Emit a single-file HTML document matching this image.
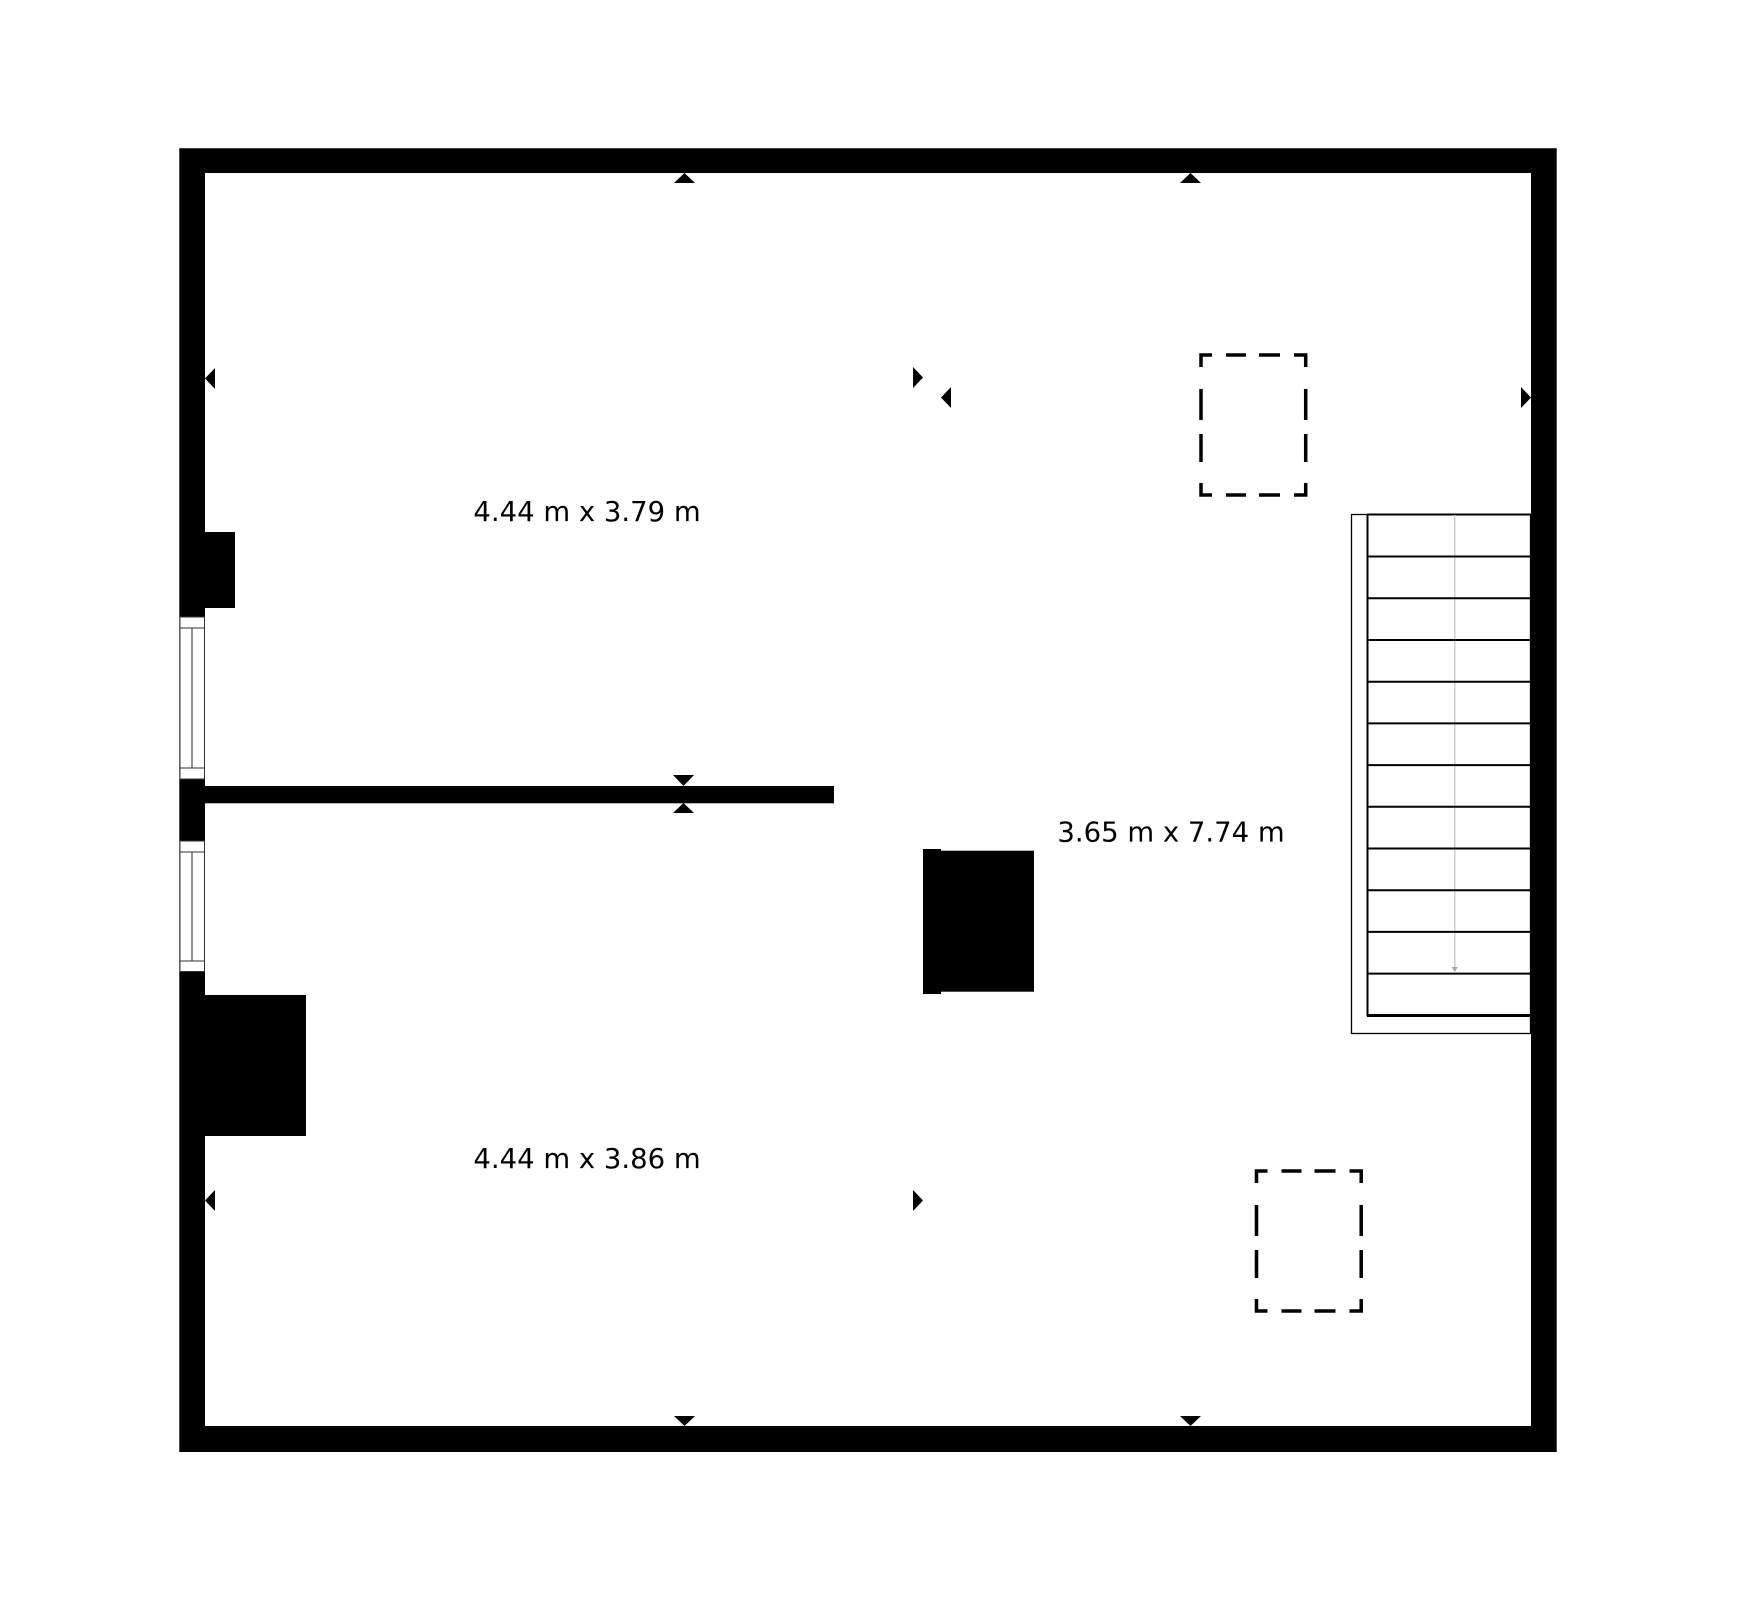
<!DOCTYPE html>
<html><head><meta charset="utf-8"><style>html,body{margin:0;padding:0;background:#fff}svg{display:block}</style></head>
<body>
<svg width="1737" height="1603" viewBox="0 0 1737 1603" xmlns="http://www.w3.org/2000/svg">
<rect width="1737" height="1603" fill="#fff"/>
<!-- outer walls -->
<path fill="#000" fill-rule="evenodd" d="M179.3 148.3H1556.7V1452H179.3Z M205 173V1426H1531V173Z"/>
<!-- windows on left wall -->
<g stroke="#333" stroke-width="1" fill="#fff">
<rect x="180" y="617" width="24.5" height="162"/>
<line x1="180" y1="628" x2="204.5" y2="628"/>
<line x1="180" y1="768" x2="204.5" y2="768"/>
<line x1="192" y1="628" x2="192" y2="768"/>
<rect x="180" y="841" width="24.5" height="130.5"/>
<line x1="180" y1="852" x2="204.5" y2="852"/>
<line x1="180" y1="961" x2="204.5" y2="961"/>
<line x1="192" y1="852" x2="192" y2="961"/>
</g>
<!-- chimneys / blocks -->
<rect x="204" y="532" width="31" height="76" fill="#000"/>
<rect x="204" y="995" width="102" height="141" fill="#000"/>
<rect x="204" y="786" width="630" height="17.3" fill="#000"/>
<rect x="923" y="850.7" width="111" height="141" fill="#000"/>
<rect x="923" y="849" width="18" height="145" fill="#000"/>
<!-- markers -->
<g fill="#000">
<polygon points="674,183 695,183 684.5,173"/>
<polygon points="1180,183 1201,183 1190.5,173"/>
<polygon points="674,1416 695,1416 684.5,1426"/>
<polygon points="1180,1416 1201,1416 1190.5,1426"/>
<polygon points="673,775 694,775 683.5,786"/>
<polygon points="673,813 694,813 683.5,803"/>
<polygon points="215,368 215,389 205,378.5"/>
<polygon points="215,1190 215,1211 205,1200.5"/>
<polygon points="913,367 913,388 923,377.5"/>
<polygon points="913,1190 913,1211 923,1200.5"/>
<polygon points="951,387 951,408 941,397.5"/>
<polygon points="1521,387 1521,408 1531,397.5"/>
</g>
<!-- dashed rects -->
<g id="d" fill="none" stroke="#000" stroke-width="3.5">
<path d="M1201 367V355H1212"/>
<path d="M1294 355H1305.7V367"/>
<path d="M1201 483V495H1212"/>
<path d="M1294 495H1305.7V483"/>
<path d="M1226 355H1246M1259 355H1280M1226 495H1246M1259 495H1280"/>
<path d="M1201 389V420M1201 434V462M1305.7 389V420M1305.7 434V462"/>
</g>
<g transform="translate(55.5 816)">
<g fill="none" stroke="#000" stroke-width="3.5">
<path d="M1201 367V355H1212"/>
<path d="M1294 355H1305.7V367"/>
<path d="M1201 483V495H1212"/>
<path d="M1294 495H1305.7V483"/>
<path d="M1226 355H1246M1259 355H1280M1226 495H1246M1259 495H1280"/>
<path d="M1201 389V420M1201 434V462M1305.7 389V420M1305.7 434V462"/>
</g></g>
<!-- stairs -->
<g fill="none" stroke="#000">
<rect x="1351.5" y="514.5" width="179" height="519" stroke-width="1.3"/>
<line x1="1367.5" y1="514.5" x2="1367.5" y2="1016" stroke-width="2"/>
<line x1="1367" y1="514.5" x2="1531" y2="514.5" stroke-width="2"/>
<line x1="1454.7" y1="515" x2="1454.7" y2="970" stroke="#ccc" stroke-width="1.5"/>
<polygon points="1451.5,967 1458,967 1454.7,972" fill="#aaa" stroke="none"/>
<g stroke-width="2">
<line x1="1367" y1="556.5" x2="1531" y2="556.5"/>
<line x1="1367" y1="598.2" x2="1531" y2="598.2"/>
<line x1="1367" y1="640" x2="1531" y2="640"/>
<line x1="1367" y1="681.7" x2="1531" y2="681.7"/>
<line x1="1367" y1="723.4" x2="1531" y2="723.4"/>
<line x1="1367" y1="765.1" x2="1531" y2="765.1"/>
<line x1="1367" y1="806.8" x2="1531" y2="806.8"/>
<line x1="1367" y1="848.5" x2="1531" y2="848.5"/>
<line x1="1367" y1="890.2" x2="1531" y2="890.2"/>
<line x1="1367" y1="931.9" x2="1531" y2="931.9"/>
<line x1="1367" y1="973.6" x2="1531" y2="973.6"/>
</g>
<line x1="1367" y1="1015.5" x2="1531" y2="1015.5" stroke-width="3"/>
</g>
<!-- labels -->
<g font-family="DejaVu Sans, sans-serif" font-size="27.5" fill="#000" text-anchor="middle">
<text x="587" y="521">4.44 m x 3.79 m</text>
<text x="1171" y="841.5">3.65 m x 7.74 m</text>
<text x="587" y="1168">4.44 m x 3.86 m</text>
</g>
</svg>
</body></html>
